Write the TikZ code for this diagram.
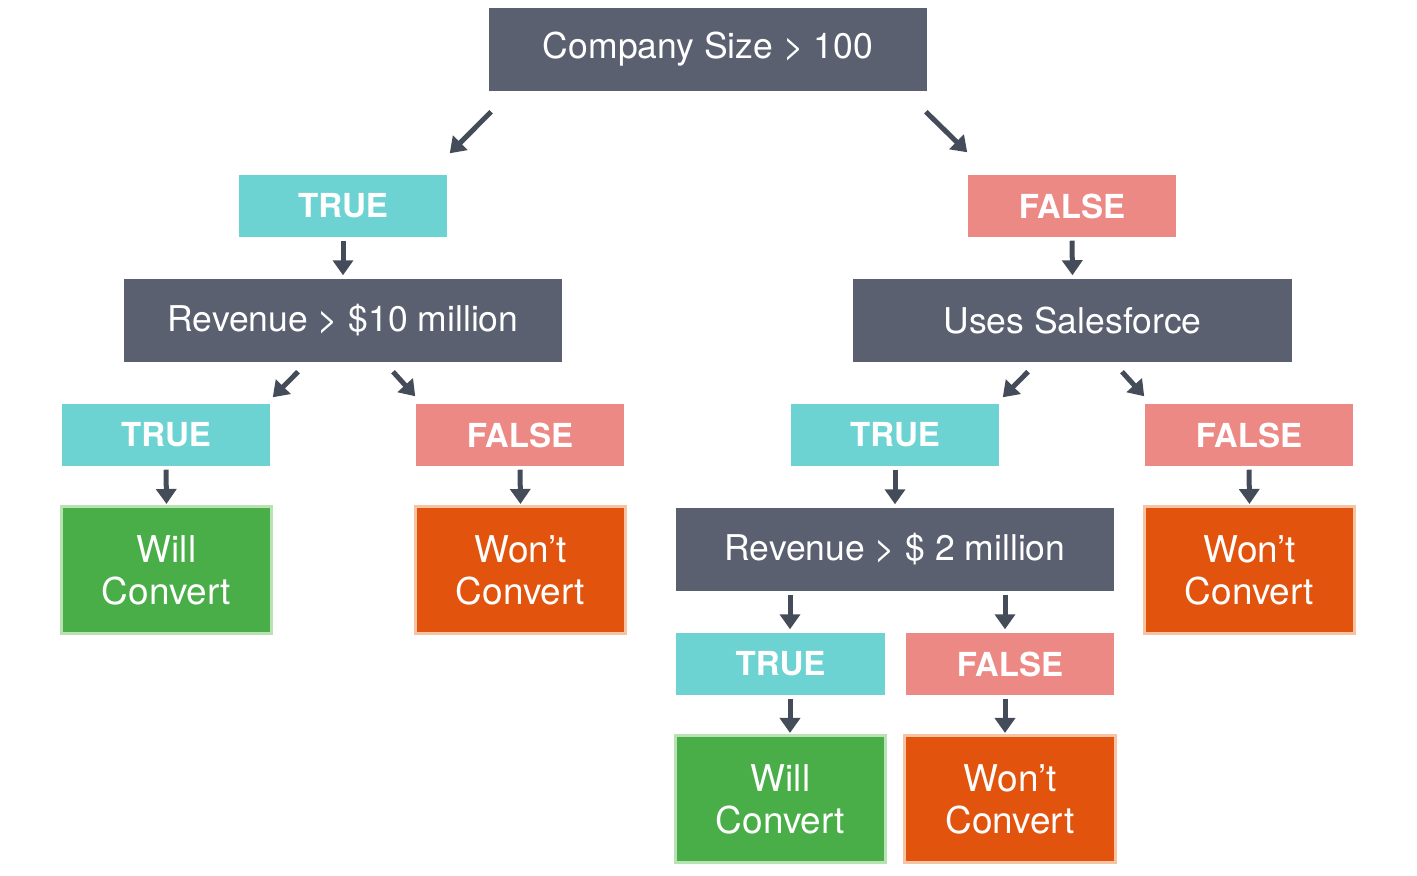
\documentclass[tikz,border=0pt]{standalone}
\usepackage{fontspec}
\setmainfont{TeX Gyre Heros}
\usetikzlibrary{arrows.meta,calc}
\definecolor{slate}{HTML}{5A6070}
\definecolor{tcyan}{HTML}{6CD3D2}
\definecolor{fsalmon}{HTML}{EC8985}
\definecolor{wgreen}{HTML}{49AE48}
\definecolor{wgreenl}{HTML}{B8E2B4}
\definecolor{norange}{HTML}{E2530E}
\definecolor{norangel}{HTML}{F6C3A5}
\definecolor{arrowc}{HTML}{454C59}
\begin{document}
\begin{tikzpicture}[x=0.01cm,y=-0.01cm,
  cond/.style={fill=slate,text=white,minimum width=4.38cm,minimum height=0.83cm,inner sep=0pt,
    font=\fontsize{10.1}{12}\selectfont},
  truebox/.style={fill=tcyan,text=white,minimum width=2.08cm,minimum height=0.62cm,inner sep=0pt,
    font=\bfseries\fontsize{9.4}{11}\selectfont},
  falsebox/.style={fill=fsalmon,text=white,minimum width=2.08cm,minimum height=0.62cm,inner sep=0pt,
    font=\bfseries\fontsize{9.4}{11}\selectfont},
  resbox/.style={minimum width=2.10cm,minimum height=1.27cm,inner sep=0pt,line width=0.03cm,
    align=center,text=white,font=\fontsize{10.5}{12}\selectfont},
  willbox/.style={resbox,fill=wgreen,draw=wgreenl},
  wontbox/.style={resbox,fill=norange,draw=norangel},
  arr/.style={draw=arrowc,line width=0.05cm,-{Triangle[length=0.15cm,width=0.2cm]}}
]
\useasboundingbox (0,0) rectangle (1417,875);

\node[cond] (top) at (708,49.5) {Company Size > 100};
\node[truebox] (t1) at (343,206) {TRUE};
\node[falsebox] (f1) at (1072,206) {FALSE};
\node[cond] (r1) at (343,320.5) {Revenue > \$10 million};
\node[cond] (s1) at (1072.5,320.5) {Uses Salesforce};
\node[truebox] (t2a) at (166,435) {TRUE};
\node[falsebox] (f2a) at (520,435) {FALSE};
\node[truebox] (t2b) at (895,435) {TRUE};
\node[falsebox] (f2b) at (1249,435) {FALSE};
\node[willbox] (w1) at (166.5,570) {Will\\Convert};
\node[wontbox] (n1) at (520.5,570) {Won’t\\Convert};
\node[cond] (r2) at (895,549.5) {Revenue > \$ 2 million};
\node[wontbox] (n2) at (1249.5,570) {Won’t\\Convert};
\node[truebox] (t3) at (780.5,664) {TRUE};
\node[falsebox] (f3) at (1010,664) {FALSE};
\node[willbox] (w2) at (780.5,799) {Will\\Convert};
\node[wontbox] (n3) at (1010,799) {Won’t\\Convert};

\coordinate (c1) at (790,0);
\coordinate (c2) at (1005,0);

% diagonal arrows
\draw[arr] ($(top.south west)+(3,20)$) -- ($(t1.north east)+(2,-21)$);
\draw[arr] ($(top.south east)+(-2,20)$) -- ($(f1.north west)+(0,-22)$);
\draw[arr] ($(r1.south)+(-45,9)$) -- ($(t2a.north east)+(2,-6)$);
\draw[arr] ($(r1.south)+(50,9)$) -- ($(f2a.north west)+(0,-7)$);
\draw[arr] ($(s1.south)+(-44.5,9)$) -- ($(t2b.north east)+(3,-6)$);
\draw[arr] ($(s1.south)+(49.5,9)$) -- ($(f2b.north west)+(0,-7)$);

% vertical arrows
\draw[arr,shorten <=0.03cm,shorten >=0.03cm] (t1.south) -- (r1.north);
\draw[arr,shorten <=0.03cm,shorten >=0.03cm] (f1.south) -- (s1.north);
\draw[arr,shorten <=0.03cm,shorten >=0.01cm] (t2a.south) -- (w1.north);
\draw[arr,shorten <=0.03cm,shorten >=0.01cm] (f2a.south) -- (n1.north);
\draw[arr,shorten <=0.03cm,shorten >=0.03cm] (t2b.south) -- (r2.north);
\draw[arr,shorten <=0.03cm,shorten >=0.01cm] (f2b.south) -- (n2.north);
\draw[arr,shorten <=0.03cm,shorten >=0.03cm] (r2.south -| c1) -- (t3.north -| c1);
\draw[arr,shorten <=0.03cm,shorten >=0.03cm] (r2.south -| c2) -- (f3.north -| c2);
\draw[arr,shorten <=0.03cm,shorten >=0.01cm] (t3.south -| c1) -- (w2.north -| c1);
\draw[arr,shorten <=0.03cm,shorten >=0.01cm] (f3.south -| c2) -- (n3.north -| c2);
\end{tikzpicture}
\end{document}
